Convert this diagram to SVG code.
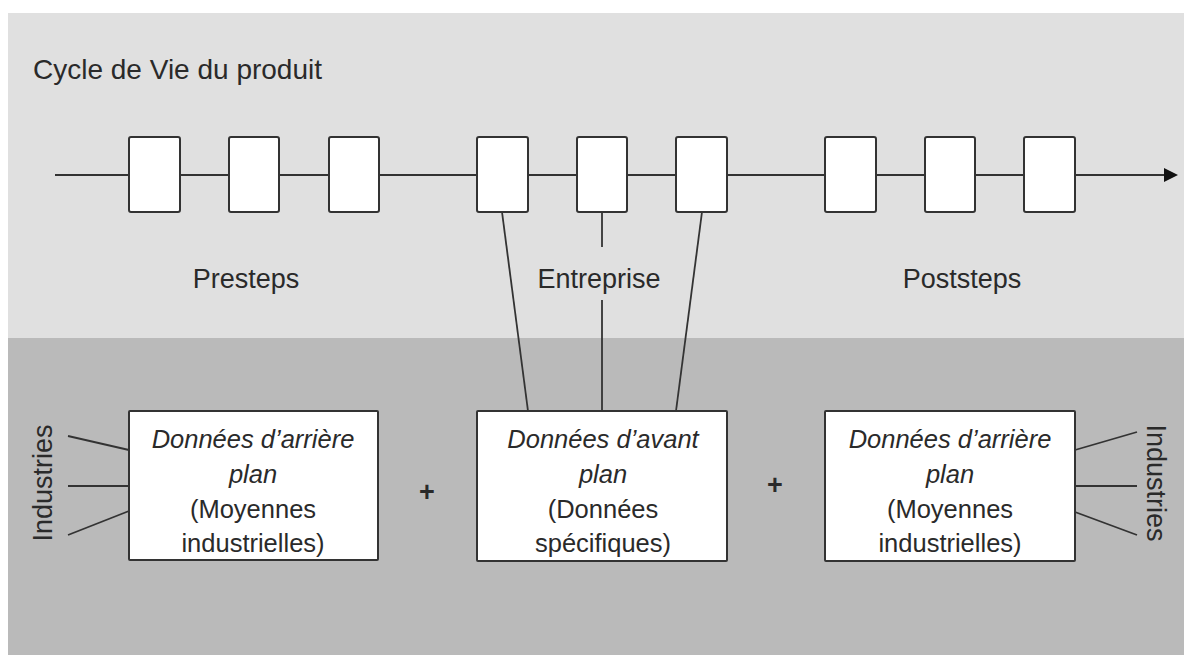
<svg xmlns="http://www.w3.org/2000/svg" width="1184" height="655" viewBox="0 0 1184 655">
<style>
.t{font-family:"Liberation Sans",Arial,sans-serif;fill:#2a2a2a}
.lbl{font-size:27px}
.ttl{font-size:28px}
.bx{font-size:25.5px}
.it{font-style:italic}
.step{fill:#ffffff;stroke:#333;stroke-width:2}
.box{fill:#ffffff;stroke:#333;stroke-width:2}
.ln{stroke:#333;stroke-width:1.8;fill:none}
.pl{font-size:27px;font-weight:bold}
</style>
<rect x="0" y="0" width="1184" height="655" fill="#ffffff"/>
<rect x="8" y="13" width="1176" height="325" fill="#e0e0e0"/>
<rect x="8" y="338" width="1176" height="317" fill="#bababa"/>
<text class="t ttl" x="33" y="79">Cycle de Vie du produit</text>
<g id="connectors">
<line class="ln" x1="55" y1="175" x2="1166" y2="175"/>
<path d="M1164,168 L1178,175 L1164,182 z" fill="#111"/>
<line class="ln" x1="502" y1="212" x2="528" y2="411"/>
<line class="ln" x1="602" y1="212" x2="602" y2="247"/>
<line class="ln" x1="602" y1="300" x2="602" y2="411"/>
<line class="ln" x1="702" y1="212" x2="676" y2="411"/>
<line class="ln" x1="68" y1="436" x2="129" y2="450"/>
<line class="ln" x1="68" y1="486" x2="129" y2="486"/>
<line class="ln" x1="68" y1="535" x2="129" y2="511"/>
<line class="ln" x1="1075" y1="450" x2="1137" y2="432"/>
<line class="ln" x1="1075" y1="486" x2="1137" y2="486"/>
<line class="ln" x1="1075" y1="512" x2="1137" y2="535"/>
</g>
<g id="step1"><rect class="step" x="129" y="137" width="51" height="75" rx="2"/></g>
<g id="step2"><rect class="step" x="229" y="137" width="50" height="75" rx="2"/></g>
<g id="step3"><rect class="step" x="329" y="137" width="50" height="75" rx="2"/></g>
<g id="step4"><rect class="step" x="477" y="137" width="51" height="75" rx="2"/></g>
<g id="step5"><rect class="step" x="577" y="137" width="50" height="75" rx="2"/></g>
<g id="step6"><rect class="step" x="676" y="137" width="51" height="75" rx="2"/></g>
<g id="step7"><rect class="step" x="825" y="137" width="51" height="75" rx="2"/></g>
<g id="step8"><rect class="step" x="925" y="137" width="50" height="75" rx="2"/></g>
<g id="step9"><rect class="step" x="1024" y="137" width="51" height="75" rx="2"/></g>
<g id="presteps"><text class="t lbl" x="246" y="288" text-anchor="middle">Presteps</text></g>
<g id="entreprise"><text class="t lbl" x="599" y="288" text-anchor="middle">Entreprise</text></g>
<g id="poststeps"><text class="t lbl" x="962" y="288" text-anchor="middle">Poststeps</text></g>
<g id="box-left">
<rect class="box" x="129" y="411" width="249" height="149" rx="1"/>
<text class="t bx" text-anchor="middle"><tspan class="it" x="253" y="448">Données d’arrière</tspan><tspan class="it" x="253" y="483">plan</tspan><tspan x="253" y="518">(Moyennes</tspan><tspan x="253" y="552">industrielles)</tspan></text>
</g>
<g id="box-middle">
<rect class="box" x="477" y="411" width="250" height="150" rx="1"/>
<text class="t bx" text-anchor="middle"><tspan class="it" x="603" y="448">Données d’avant</tspan><tspan class="it" x="603" y="483">plan</tspan><tspan x="603" y="518">(Données</tspan><tspan x="603" y="552">spécifiques)</tspan></text>
</g>
<g id="box-right">
<rect class="box" x="825" y="411" width="250" height="150" rx="1"/>
<text class="t bx" text-anchor="middle"><tspan class="it" x="950" y="448">Données d’arrière</tspan><tspan class="it" x="950" y="483">plan</tspan><tspan x="950" y="518">(Moyennes</tspan><tspan x="950" y="552">industrielles)</tspan></text>
</g>
<g id="plus-left"><text class="t pl" x="427" y="501" text-anchor="middle">+</text></g>
<g id="plus-right"><text class="t pl" x="775" y="494" text-anchor="middle">+</text></g>
<g id="industries-left"><text class="t lbl" transform="translate(52,483) rotate(-90)" text-anchor="middle">Industries</text></g>
<g id="industries-right"><text class="t lbl" transform="translate(1147,483) rotate(90)" text-anchor="middle">Industries</text></g>
</svg>
